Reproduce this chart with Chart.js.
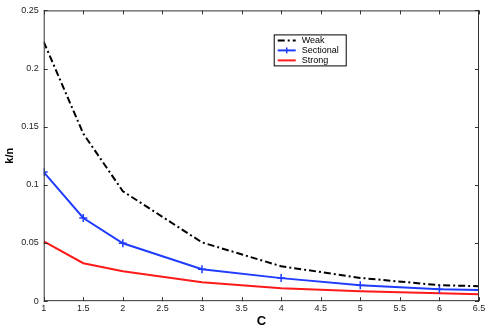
<!DOCTYPE html>
<html>
<head>
<meta charset="utf-8">
<script src="https://cdn.jsdelivr.net/npm/chart.js@4"></script>
<style>
  html, body { margin: 0; padding: 0; background: #fff; }
  #wrap { width: 491px; height: 327px; }
</style>
</head>
<body>
<div id="wrap"><canvas id="myChart" width="491" height="327"></canvas></div>
<script>
// data
const cvals = [1, 1.5, 2, 3, 4, 5, 6, 6.5];
const weak = [0.223, 0.144, 0.0945, 0.0505, 0.030, 0.020, 0.0137, 0.0129];
const sectional = [0.111, 0.0715, 0.0498, 0.0275, 0.0198, 0.0137, 0.0103, 0.0095];
const strong = [0.0515, 0.0326, 0.0258, 0.0163, 0.011, 0.0086, 0.0069, 0.006];
const seriesNames = ['Weak', 'Sectional', 'Strong'];

const toXY = ys => cvals.map((c, i) => ({ x: c, y: ys[i] }));
const fmt = v => String(Math.round(v * 1000) / 1000);

// inward tick marks + full box, like the old matlab plot
const boxTicks = {
  id: 'boxTicks',
  afterDraw(chart) {
    const ctx = chart.ctx;
    const a = chart.chartArea;
    const xs = chart.scales.x, ys = chart.scales.y;
    ctx.save();
    ctx.strokeStyle = '#333';
    ctx.lineWidth = 1;
    ctx.strokeRect(a.left + 0.5, a.top + 0.5, a.right - a.left - 1, a.bottom - a.top - 1);
    ctx.beginPath();
    xs.ticks.forEach(t => {
      const px = Math.round(xs.getPixelForValue(t.value)) + 0.5;
      ctx.moveTo(px, a.bottom); ctx.lineTo(px, a.bottom - 4);
      ctx.moveTo(px, a.top); ctx.lineTo(px, a.top + 4);
    });
    ys.ticks.forEach(t => {
      const py = Math.round(ys.getPixelForValue(t.value)) + 0.5;
      ctx.moveTo(a.left, py); ctx.lineTo(a.left + 4, py);
      ctx.moveTo(a.right, py); ctx.lineTo(a.right - 4, py);
    });
    ctx.stroke();

    // legend box inside the plot
    const lx = a.left + 230, ly = a.top + 24, lw = 72, lh = 31;
    ctx.fillStyle = '#fff';
    ctx.fillRect(lx, ly, lw, lh);
    ctx.strokeStyle = '#000';
    ctx.strokeRect(lx + 0.5, ly + 0.5, lw, lh);
    ctx.font = '9px "Liberation Sans", Arial, sans-serif';
    ctx.textBaseline = 'middle';
    chart.data.datasets.forEach((ds, i) => {
      const yy = ly + 6 + i * 10;
      ctx.strokeStyle = ds.borderColor;
      ctx.lineWidth = 2;
      ctx.setLineDash(ds.borderDash || []);
      ctx.beginPath();
      ctx.moveTo(lx + 4, yy); ctx.lineTo(lx + 22, yy);
      ctx.stroke();
      ctx.setLineDash([]);
      if (ds.pointStyle === 'cross') {
        ctx.lineWidth = 1.5;
        ctx.beginPath();
        ctx.moveTo(lx + 13, yy - 3); ctx.lineTo(lx + 13, yy + 3);
        ctx.stroke();
      }
      ctx.fillStyle = '#000';
      ctx.fillText(ds.label, lx + 28, yy + 0.5);
    });
    ctx.restore();
  }
};

const ctx = document.getElementById('myChart').getContext('2d');
const myChart = new Chart(ctx, {
  type: 'line',
  data: {
    datasets: [{
      label: seriesNames[0],
      data: toXY(weak),
      borderColor: '#000',
      borderWidth: 2,
      borderDash: [7, 3, 2, 3],
      pointRadius: 0
    }, {
      label: seriesNames[1],
      data: toXY(sectional),
      borderColor: '#1f3cff',
      backgroundColor: '#1f3cff',
      borderWidth: 2,
      pointStyle: 'cross',
      pointRadius: 4,
      pointBorderWidth: 1.5
    }, {
      label: seriesNames[2],
      data: toXY(strong),
      borderColor: '#ff1a1a',
      borderWidth: 2,
      pointRadius: 0
    }]
  },
  options: {
    responsive: false,
    animation: false,
    layout: { autoPadding: false, padding: { top: 5, right: 12, left: 3, bottom: 0 } },
    plugins: {
      legend: { display: false },
      tooltip: { enabled: false }
    },
    scales: {
      x: {
        type: 'linear',
        min: 1,
        max: 6.5,
        grid: { display: false, drawTicks: false },
        border: { display: false },
        ticks: { stepSize: 0.5, padding: 2, color: '#222', callback: fmt, font: { size: 9, family: '"Liberation Sans", Arial' } },
        title: { display: true, text: 'C', color: '#000', padding: { top: 0, bottom: 0 }, font: { size: 13, lineHeight: 0.85, weight: 'bold', family: '"Liberation Sans", Arial' } }
      },
      y: {
        min: 0,
        max: 0.25,
        grid: { display: false, drawTicks: false },
        border: { display: false },
        ticks: { stepSize: 0.05, padding: 5, color: '#222', callback: fmt, font: { size: 9, family: '"Liberation Sans", Arial' } },
        title: { display: true, text: 'k/n', color: '#000', padding: { top: 0, bottom: 0 }, font: { size: 11, weight: 'bold', family: '"Liberation Sans", Arial' } }
      }
    }
  },
  plugins: [boxTicks]
});
</script>
</body>
</html>
